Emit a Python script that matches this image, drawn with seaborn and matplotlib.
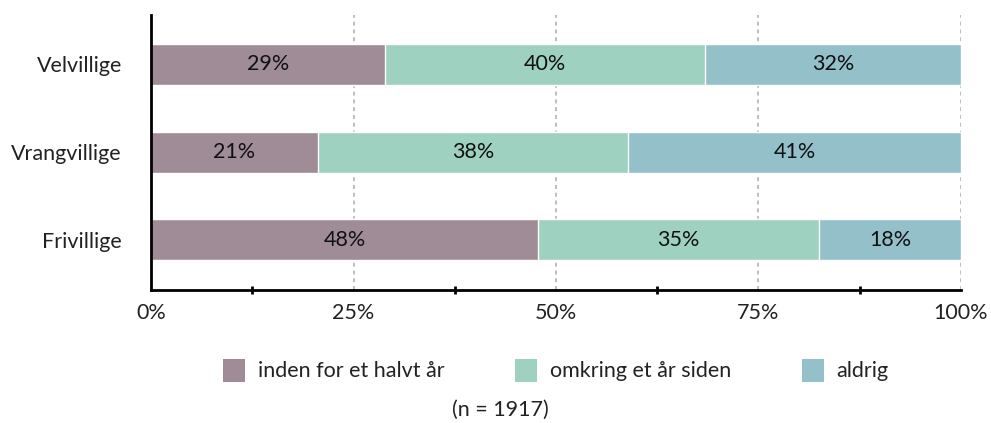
import numpy as np
import pandas as pd
import matplotlib.pyplot as plt
from matplotlib.patches import Patch
from matplotlib.ticker import MultipleLocator, PercentFormatter
import seaborn as sns

# Data
groups = ['Velvillige', 'Vrangvillige', 'Frivillige']
series = ['inden for et halvt år', 'omkring et år siden', 'aldrig']
halvt_aar = [28.9, 20.6, 47.8]
aar_siden = [39.5, 38.3, 34.7]
aldrig = [31.6, 41.1, 17.5]
colors = ['#a08c97', '#9fd1c0', '#93c0c9']

sns.set_theme(style='white')
plt.rcParams['font.family'] = ['Lato', 'DejaVu Sans']
FS = 15.5

df = pd.DataFrame({'group': groups, series[0]: halvt_aar,
                   series[1]: aar_siden, series[2]: aldrig})
cum = df[series].cumsum(axis=1)

fig = plt.figure(figsize=(9.91, 4.23), dpi=100)
ax = fig.add_axes([0.1524, 0.3144, 0.8173, 0.6501])

# stacked bars: draw cumulative totals, largest first
for i in reversed(range(len(series))):
    sns.barplot(x=cum[series[i]], y=df['group'], orient='h', color=colors[i],
                width=0.466, saturation=1, ax=ax, zorder=3)

# value labels
for i, s in enumerate(series):
    left = cum[s] - df[s]
    for j, v in enumerate(df[s]):
        ax.text(left[j] + v / 2, j, f'{round(v)}%', ha='center', va='center',
                fontsize=FS, color='#111111', zorder=4)

ax.set_xlim(0, 100)
ax.set_ylim(2.57, -0.56)
ax.xaxis.set_major_locator(MultipleLocator(25))
ax.xaxis.set_minor_locator(MultipleLocator(12.5))
ax.xaxis.set_major_formatter(PercentFormatter(decimals=0))
ax.tick_params(axis='x', which='major', length=6, width=2, color='black',
               labelsize=FS, pad=6, labelcolor='#222222', direction='inout')
ax.tick_params(axis='x', which='minor', length=6, width=2, color='black',
               direction='inout', bottom=True)
ax.tick_params(axis='y', length=0, labelsize=FS, pad=21, labelcolor='#222222')
ax.set_xlabel('')
ax.set_ylabel('')

for x in [25, 50, 75, 100]:
    ax.axvline(x, color='#bdbdbd', linestyle=(0, (2, 2)), linewidth=1.4, zorder=1)

sns.despine(ax=ax, top=True, right=True)
ax.spines['left'].set_color('black')
ax.spines['left'].set_linewidth(2)
ax.spines['bottom'].set_color('black')
ax.spines['bottom'].set_linewidth(2)
ax.spines['left'].set_zorder(5)

handles = [Patch(facecolor=c, edgecolor='none') for c in colors]
fig.legend(handles, series, loc='center', bbox_to_anchor=(0.561, 0.125), ncol=3,
           frameon=False, fontsize=FS, handlelength=1.0, handleheight=1.25,
           handletextpad=0.6, columnspacing=3.3, labelcolor='#222222')

fig.text(0.505, 0.031, '(n = 1917)', ha='center', va='center', fontsize=FS,
         color='#222222')

fig.savefig('out.png', dpi=100)
